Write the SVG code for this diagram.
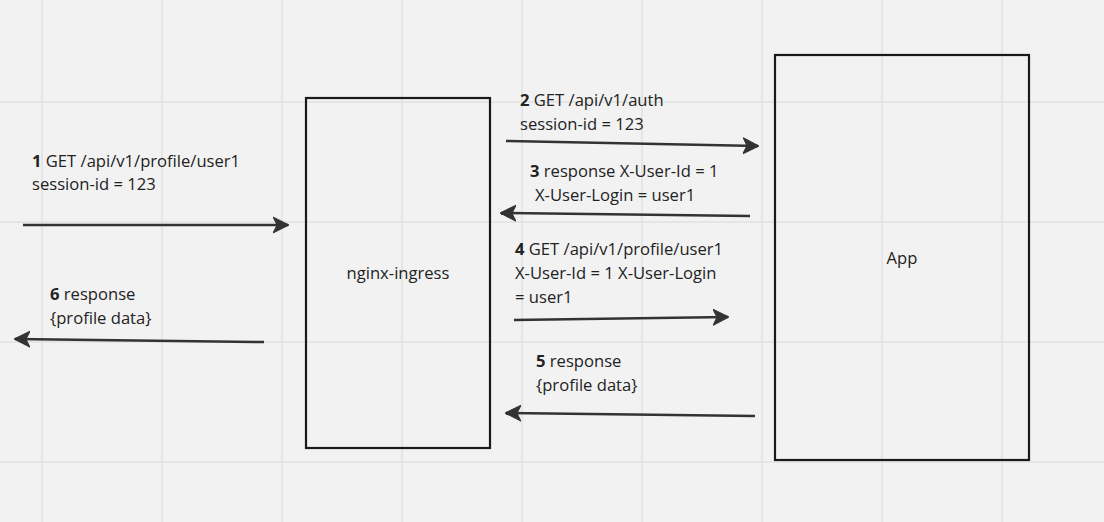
<svg xmlns="http://www.w3.org/2000/svg" width="1104" height="522" viewBox="0 0 1104 522">
  <defs>
    <marker id="arrow" markerUnits="userSpaceOnUse" markerWidth="16" markerHeight="18" viewBox="0 0 16 18" refX="15" refY="9" orient="auto">
      <path d="M0,1 L16,9 L0,17 L4,9 Z" fill="#333333" stroke="#333333" stroke-width="1" stroke-linejoin="round"/>
    </marker>
  </defs>
  <style>
    .bg { fill: #f2f2f2; }
    .grid line { stroke: #e0e0e0; stroke-width: 1.5; }
    .node rect { fill: none; stroke: #1a1a1a; stroke-width: 2.2; }
    .node text { font-family: "Open Sans", "Noto Sans", sans-serif; font-size: 16.6px; fill: #222222; text-anchor: middle; }
    .label { font-family: "Open Sans", "Noto Sans", sans-serif; font-size: 16.6px; fill: #222222; }
    .label tspan.n { font-weight: bold; }
    .connectors path { fill: none; stroke: #333333; stroke-width: 2.5; marker-end: url(#arrow); }
  </style>
  <rect class="bg" x="0" y="0" width="1104" height="522"/>
  <g class="grid">
    <line x1="42" y1="0" x2="42" y2="522"/>
    <line x1="162" y1="0" x2="162" y2="522"/>
    <line x1="282" y1="0" x2="282" y2="522"/>
    <line x1="402" y1="0" x2="402" y2="522"/>
    <line x1="522" y1="0" x2="522" y2="522"/>
    <line x1="642" y1="0" x2="642" y2="522"/>
    <line x1="762" y1="0" x2="762" y2="522"/>
    <line x1="882" y1="0" x2="882" y2="522"/>
    <line x1="1002" y1="0" x2="1002" y2="522"/>
    <line x1="0" y1="102" x2="1104" y2="102"/>
    <line x1="0" y1="222" x2="1104" y2="222"/>
    <line x1="0" y1="342" x2="1104" y2="342"/>
    <line x1="0" y1="462" x2="1104" y2="462"/>
  </g>
  <g id="nginx-ingress" class="node">
    <rect x="306" y="98" width="184" height="350"/>
    <text x="398" y="279">nginx-ingress</text>
  </g>
  <g id="app" class="node">
    <rect x="775" y="55" width="254" height="405"/>
    <text x="902" y="264">App</text>
  </g>
  <g class="connectors">
    <path id="c1" d="M23,225 L288,225"/>
    <path id="c2" d="M506,141 L758,146"/>
    <path id="c3" d="M750,216 L501,213"/>
    <path id="c4" d="M514,320 L728,317"/>
    <path id="c5" d="M755,416 L506,413"/>
    <path id="c6" d="M264,342 L15,339"/>
  </g>
  <g class="labels">
    <text class="label" x="32" y="167"><tspan class="n">1</tspan> GET /api/v1/profile/user1</text>
    <text class="label" x="32" y="190">session-id = 123</text>
    <text class="label" x="520" y="106"><tspan class="n">2</tspan> GET /api/v1/auth</text>
    <text class="label" x="520" y="130">session-id = 123</text>
    <text class="label" x="530" y="177"><tspan class="n">3</tspan> response X-User-Id = 1</text>
    <text class="label" x="535" y="201">X-User-Login = user1</text>
    <text class="label" x="515" y="255"><tspan class="n">4</tspan> GET /api/v1/profile/user1</text>
    <text class="label" x="515" y="279">X-User-Id = 1 X-User-Login</text>
    <text class="label" x="515" y="303">= user1</text>
    <text class="label" x="536" y="367"><tspan class="n">5</tspan> response</text>
    <text class="label" x="536" y="391">{profile data}</text>
    <text class="label" x="50" y="300"><tspan class="n">6</tspan> response</text>
    <text class="label" x="50" y="324">{profile data}</text>
  </g>
</svg>
